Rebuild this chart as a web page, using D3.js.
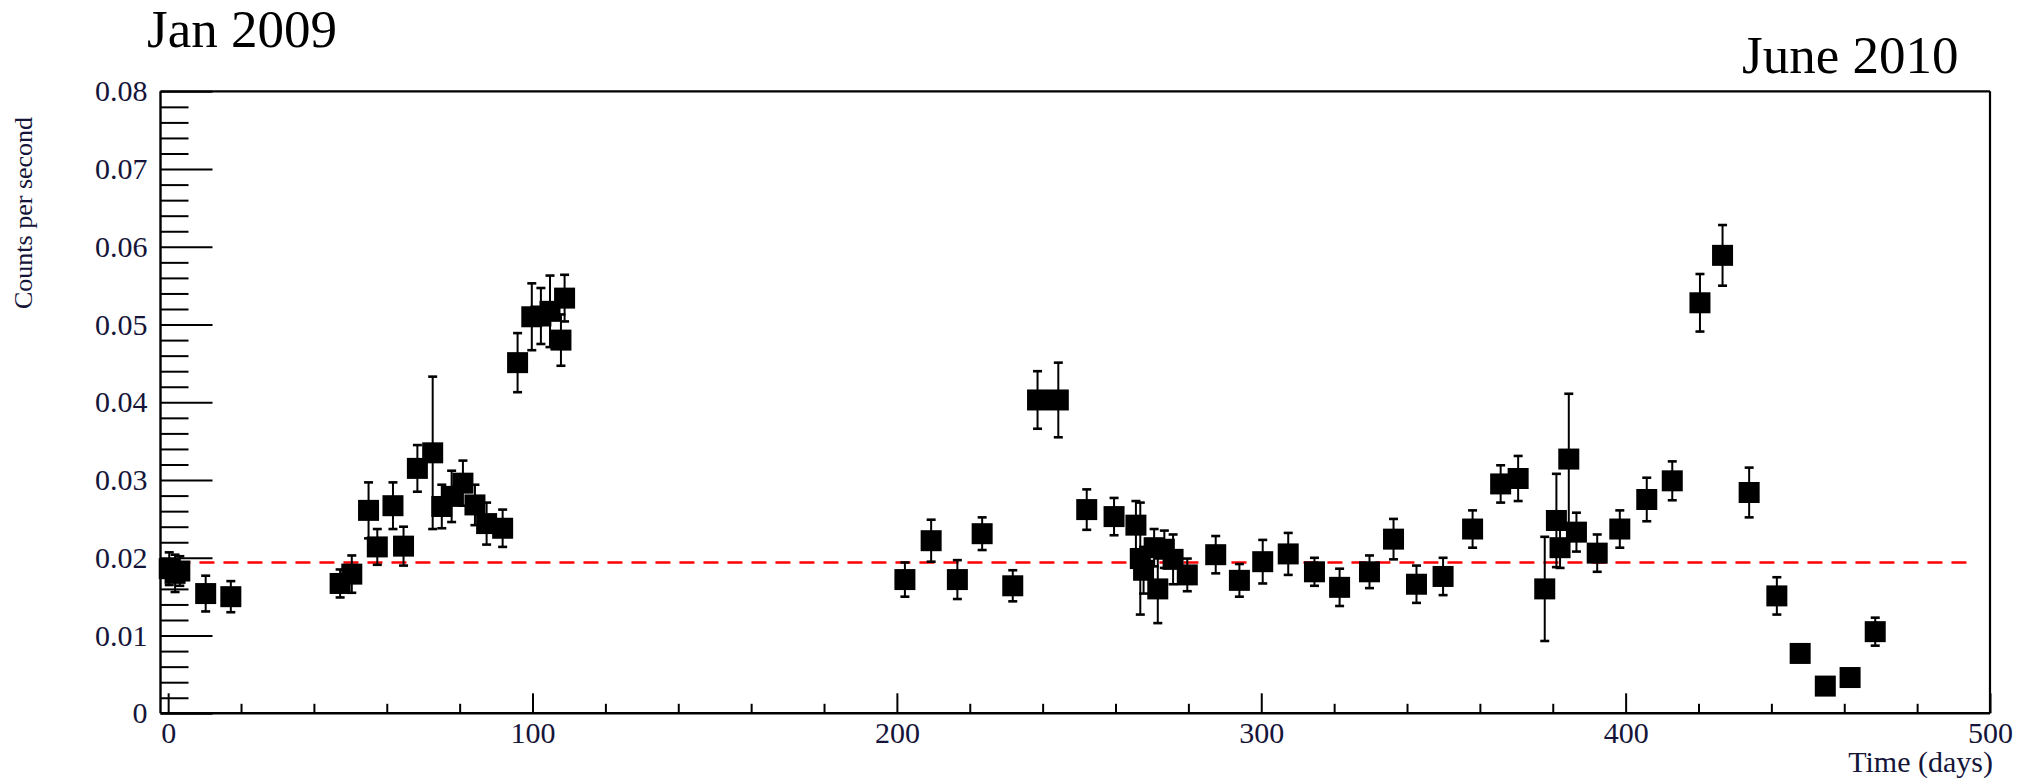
<!DOCTYPE html>
<html>
<head>
<meta charset="utf-8">
<script src="https://cdn.jsdelivr.net/npm/d3@7"></script>
<style>
  html, body { margin: 0; padding: 0; background: #ffffff; }
  svg { display: block; }
</style>
</head>
<body>
<svg id="chart" width="2037" height="780"></svg>
<script>
// Observation time in days since the start of monitoring
const days = [
  0.3, 1.9, 3.2, 10.3, 17.2, 47.2, 50.4, 55.0, 57.4, 61.7, 64.6, 68.4, 72.6, 75.1, 77.8,
  80.9, 84.2, 87.4, 91.8, 95.9, 99.8, 102.3, 104.8, 107.8, 108.8,
  202.2, 209.4, 216.6, 223.4, 231.8, 238.6, 244.3, 252.1, 259.6, 265.6, 266.8, 267.7,
  270.6, 271.6, 273.4, 275.8, 279.7, 287.5, 294.0, 300.4, 307.4, 314.6, 321.5, 329.7,
  336.3, 342.6, 349.9, 358.0, 365.7, 370.5, 377.8, 381.0, 382.0, 384.4, 386.5, 392.2,
  398.4, 405.8, 412.8, 420.4, 426.6, 433.9, 441.5, 447.9, 454.8, 461.6, 468.5
];

// Measured count rate (counts per second)
const rates = [
  0.0186, 0.0180, 0.0183, 0.0154, 0.0150, 0.0167, 0.0179, 0.0261, 0.0214, 0.0267, 0.0215, 0.0315, 0.0335, 0.0266, 0.0279,
  0.0296, 0.0268, 0.0244, 0.0238, 0.0451, 0.0510, 0.0511, 0.0517, 0.0480, 0.0534,
  0.0172, 0.0222, 0.0172, 0.0231, 0.0164, 0.0403, 0.0403, 0.0262, 0.0253, 0.0242, 0.0199, 0.0184,
  0.0213, 0.0160, 0.0211, 0.0198, 0.0178, 0.0204, 0.0171, 0.0195, 0.0205, 0.0182, 0.0162, 0.0182,
  0.0224, 0.0166, 0.0176, 0.0237, 0.0295, 0.0302, 0.0160, 0.0248, 0.0213, 0.0327, 0.0233, 0.0206,
  0.0237, 0.0275, 0.0299, 0.0528, 0.0589, 0.0284, 0.0151, 0.0077, 0.0035, 0.0046, 0.0105
];

// Statistical uncertainty on each rate (symmetric)
const rateErrors = [
  0.0021, 0.0024, 0.0019, 0.0023, 0.0020, 0.0018, 0.0024, 0.0036, 0.0023, 0.0030, 0.0025, 0.0030, 0.0098, 0.0028, 0.0033,
  0.0029, 0.0026, 0.0027, 0.0024, 0.0038, 0.0043, 0.0036, 0.0046, 0.0033, 0.0030,
  0.0022, 0.0027, 0.0025, 0.0021, 0.0020, 0.0037, 0.0048, 0.0026, 0.0024, 0.0031, 0.0072, 0.0030,
  0.0024, 0.0044, 0.0024, 0.0032, 0.0021, 0.0024, 0.0021, 0.0028, 0.0027, 0.0018, 0.0024, 0.0021,
  0.0026, 0.0024, 0.0024, 0.0024, 0.0024, 0.0029, 0.0067, 0.0060, 0.0026, 0.0084, 0.0025, 0.0024,
  0.0024, 0.0028, 0.0025, 0.0037, 0.0039, 0.0032, 0.0024, 0.0007, 0.0004, 0.0004, 0.0018
];

// Average rate over the whole period (dashed reference line) and its extent in days
const meanRate = 0.0194;
const meanSpan = [2, 496];

// Axis ticks and labels
const xTickValues = [0, 100, 200, 300, 400, 500];
const xTickLabels = ["0", "100", "200", "300", "400", "500"];
const yTickValues = [0, 0.01, 0.02, 0.03, 0.04, 0.05, 0.06, 0.07, 0.08];
const yTickLabels = ["0", "0.01", "0.02", "0.03", "0.04", "0.05", "0.06", "0.07", "0.08"];

const startLabel = "Jan 2009";
const endLabel = "June 2010";
const xTitle = "Time (days)";
const yTitle = "Counts per second";

// ---------------------------------------------------------------
const svg = d3.select("#chart");
const serif = "'Liberation Serif', 'Times New Roman', serif";
const labelColor = "#15153a";

const frame = { left: 160.5, right: 1990, top: 91.3, bottom: 713.3 };

const x = d3.scaleLinear().domain([-2.1, 500]).range([frame.left, frame.right]);
const y = d3.scaleLinear().domain([0, 0.08]).range([frame.bottom, frame.top]);

const points = days.map((d, i) => ({ day: d, rate: rates[i], err: rateErrors[i] }));

// Minor ticks every 20 days on x, every 0.002 on y
const xMinor = d3.range(20, 500, 20).filter(v => v % 100 !== 0);
const yMinor = d3.range(1, 40).map(k => k * 0.002).filter((v, k) => (k + 1) % 5 !== 0);

// Frame: top and right edges
svg.append("line")
  .attr("x1", frame.left).attr("x2", frame.right)
  .attr("y1", frame.top).attr("y2", frame.top)
  .attr("stroke", "#000").attr("stroke-width", 2.2);
svg.append("line")
  .attr("x1", frame.right).attr("x2", frame.right)
  .attr("y1", frame.top).attr("y2", frame.bottom)
  .attr("stroke", "#000").attr("stroke-width", 2.2);

// X axis: minor ticks
svg.append("g")
  .attr("transform", `translate(0,${frame.bottom})`)
  .call(d3.axisBottom(x).tickValues(xMinor).tickSize(-9.5).tickSizeOuter(0).tickFormat(""))
  .call(g => g.select(".domain").remove())
  .call(g => g.selectAll(".tick line").attr("stroke", "#000").attr("stroke-width", 2));

// X axis: major ticks with labels
const xAxisG = svg.append("g")
  .attr("transform", `translate(0,${frame.bottom})`)
  .call(d3.axisBottom(x).tickValues(xTickValues).tickSize(-20).tickSizeOuter(0)
    .tickPadding(8).tickFormat((v, i) => xTickLabels[i]));
xAxisG.select(".domain").attr("stroke", "#000").attr("stroke-width", 2.4)
  .attr("d", `M${frame.left},0H${frame.right}`);
xAxisG.selectAll(".tick line").attr("stroke", "#000").attr("stroke-width", 2);
xAxisG.selectAll(".tick text")
  .attr("font-family", serif).attr("font-size", 30).attr("fill", labelColor);

// Y axis: minor ticks
svg.append("g")
  .attr("transform", `translate(${frame.left},0)`)
  .call(d3.axisLeft(y).tickValues(yMinor).tickSize(-28).tickSizeOuter(0).tickFormat(""))
  .call(g => g.select(".domain").remove())
  .call(g => g.selectAll(".tick line").attr("stroke", "#000").attr("stroke-width", 2));

// Y axis: major ticks with labels
const yAxisG = svg.append("g")
  .attr("transform", `translate(${frame.left},0)`)
  .call(d3.axisLeft(y).tickValues(yTickValues).tickSize(-52).tickSizeOuter(0)
    .tickPadding(13).tickFormat((v, i) => yTickLabels[i]));
yAxisG.select(".domain").attr("stroke", "#000").attr("stroke-width", 2.4)
  .attr("d", `M0,${frame.bottom}V${frame.top}`);
yAxisG.selectAll(".tick line").attr("stroke", "#000").attr("stroke-width", 2);
yAxisG.selectAll(".tick text")
  .attr("font-family", serif).attr("font-size", 30).attr("fill", labelColor);

// Mean-rate reference line (red dashes)
svg.append("line")
  .attr("x1", x(meanSpan[0])).attr("x2", x(meanSpan[1]))
  .attr("y1", y(meanRate)).attr("y2", y(meanRate))
  .attr("stroke", "#ff0000").attr("stroke-width", 2.6)
  .attr("stroke-dasharray", "15 9");

// Error bars
const capHalf = 4.5;
const bars = svg.append("g").attr("stroke", "#000");
points.forEach(p => {
  const yTop = y(p.rate + p.err), yBot = y(p.rate - p.err), cx = x(p.day);
  bars.append("line").attr("x1", cx).attr("x2", cx).attr("y1", yTop).attr("y2", yBot)
    .attr("stroke-width", 2);
  bars.append("line").attr("x1", cx - capHalf).attr("x2", cx + capHalf)
    .attr("y1", yTop).attr("y2", yTop).attr("stroke-width", 2.6);
  bars.append("line").attr("x1", cx - capHalf).attr("x2", cx + capHalf)
    .attr("y1", yBot).attr("y2", yBot).attr("stroke-width", 2.6);
});

// Square markers
const half = 10.5;
svg.append("g").selectAll("rect").data(points).join("rect")
  .attr("x", d => x(d.day) - half)
  .attr("y", d => y(d.rate) - half)
  .attr("width", half * 2).attr("height", half * 2)
  .attr("fill", "#000");

// Axis titles
svg.append("text")
  .attr("x", 1993).attr("y", 772)
  .attr("text-anchor", "end")
  .attr("font-family", serif).attr("font-size", 30).attr("fill", labelColor)
  .text(xTitle);

svg.append("text")
  .attr("transform", "translate(32,309) rotate(-90)")
  .attr("text-anchor", "start")
  .attr("font-family", serif).attr("font-size", 26).attr("fill", labelColor)
  .text(yTitle);

// Period annotations
svg.append("text")
  .attr("x", 147).attr("y", 47)
  .attr("font-family", serif).attr("font-size", 53).attr("fill", "#000")
  .text(startLabel);

svg.append("text")
  .attr("x", 1742).attr("y", 73)
  .attr("font-family", serif).attr("font-size", 53).attr("fill", "#000")
  .text(endLabel);
</script>
</body>
</html>
